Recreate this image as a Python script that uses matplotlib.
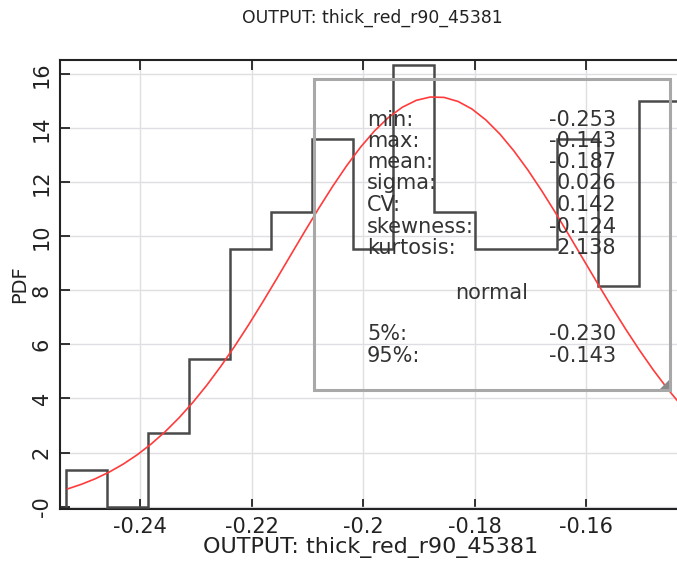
import numpy as np
import matplotlib
matplotlib.use("Agg")
import matplotlib.pyplot as plt
from matplotlib.patches import Rectangle, Polygon

# histogram (pdf heights per bin)
bin_edges = [-0.2533, -0.24596, -0.23862, -0.23128, -0.22394, -0.2166, -0.20926, -0.20192,
             -0.19458, -0.18724, -0.1799, -0.17256, -0.16522, -0.15788, -0.15054, -0.1432]
pdf_vals = [1.36, 0.0, 2.72, 5.45, 9.54, 10.9, 13.6, 9.54, 16.35, 10.9, 9.54, 9.54, 13.6, 8.18, 15.0]

# fitted normal curve
curve_x = [-0.253, -0.2505, -0.248, -0.2455, -0.243, -0.2405, -0.238, -0.2355, -0.233, -0.2305,
           -0.228, -0.2255, -0.223, -0.2205, -0.218, -0.2155, -0.213, -0.2105, -0.208, -0.2055,
           -0.203, -0.2005, -0.198, -0.1955, -0.193, -0.1905, -0.188, -0.1855, -0.183, -0.1805,
           -0.178, -0.1755, -0.173, -0.1705, -0.168, -0.1655, -0.163, -0.1605, -0.158, -0.1555,
           -0.153, -0.1505, -0.148, -0.1455, -0.143]
curve_y = [0.651, 0.823, 1.030, 1.278, 1.572, 1.916, 2.315, 2.770, 3.286, 3.863,
           4.500, 5.196, 5.945, 6.740, 7.573, 8.433, 9.306, 10.177, 11.029, 11.845,
           12.607, 13.298, 13.899, 14.398, 14.780, 15.036, 15.159, 15.145, 14.995, 14.714,
           14.307, 13.787, 13.166, 12.460, 11.686, 10.861, 10.004, 9.131, 8.260, 7.404,
           6.578, 5.791, 5.052, 4.368, 3.743]

x_ticks = [-0.24, -0.22, -0.2, -0.18, -0.16]
x_tick_labels = ["-0.24", "-0.22", "-0.2", "-0.18", "-0.16"]
y_ticks = [0, 2, 4, 6, 8, 10, 12, 14, 16]
y_tick_labels = ["-0", "2", "4", "6", "8", "10", "12", "14", "16"]

stat_names = ["min:", "max:", "mean:", "sigma:", "CV:", "skewness:", "kurtosis:"]
stat_values = ["-0.253", "-0.143", "-0.187", "0.026", "0.142", "-0.124", "2.138"]
pct_names = ["5%:", "95%:"]
pct_values = ["-0.230", "-0.143"]
dist_name = "normal"
var_name = "OUTPUT: thick_red_r90_45381"

W, H = 677, 561
fig = plt.figure(figsize=(W / 100, H / 100), dpi=100)
ax = fig.add_axes([60 / W, (H - 508.7) / H, 621 / W, 448.7 / H])

ax.set_xlim(-0.25434, -0.14305)
ax.set_ylim(-0.08, 16.53)

ax.grid(True, color="#e0dde3", lw=1.0, zorder=0)
ax.set_axisbelow(True)

ax.stairs(pdf_vals, bin_edges, baseline=0, color="#4a4a4a", lw=1.8, zorder=3)
ax.plot(curve_x, curve_y, color="#ff3b3b", lw=1.2, zorder=4)

ax.set_xticks(x_ticks)
ax.set_xticklabels(x_tick_labels)
ax.set_yticks(y_ticks)
ax.set_yticklabels(y_tick_labels, rotation=90, va="center")
ax.tick_params(axis="both", direction="in", length=7, width=1.3, color="#222222",
               labelsize=15, labelcolor="#222222")
ax.tick_params(axis="x", top=True, pad=6)
ax.tick_params(axis="y", pad=6)

for s in ["left", "top", "bottom"]:
    ax.spines[s].set_color("#222222")
    ax.spines[s].set_linewidth(1.5)
ax.spines["right"].set_visible(False)

ax.set_xlabel(var_name, fontsize=16, color="#222222", labelpad=0)
ax.set_ylabel("PDF", fontsize=14, color="#222222", labelpad=2)
fig.text(372 / W, 1 - 18 / H, var_name, fontsize=12.4, color="#222222",
         ha="center", va="center")

# statistics box (pixel positions converted to figure fraction)
def fx(px):
    return px / W

def fy(py):
    return 1 - py / H

box = Rectangle((fx(314), fy(390)), fx(670) - fx(314), fy(79) - fy(390),
                transform=fig.transFigure, fill=False, ec="#a8a8a8", lw=2.2, zorder=5)
fig.patches.append(box)
tri = Polygon([[fx(670), fy(389)], [fx(660), fy(389)], [fx(670), fy(379)]],
              closed=True, transform=fig.transFigure, fc="#8a8a8a", ec="none")
fig.patches.append(tri)

row_y = [120, 141, 162, 183, 205, 226.5, 248]
for name, val, py in zip(stat_names, stat_values, row_y):
    fig.text(fx(367), fy(py), name, fontsize=15, color="#333333", ha="left", va="center")
    fig.text(fx(616), fy(py), val, fontsize=15, color="#333333", ha="right", va="center")
fig.text(fx(492), fy(293), dist_name, fontsize=15, color="#333333", ha="center", va="center")
for name, val, py in zip(pct_names, pct_values, [334, 355.5]):
    fig.text(fx(367), fy(py), name, fontsize=15, color="#333333", ha="left", va="center")
    fig.text(fx(616), fy(py), val, fontsize=15, color="#333333", ha="right", va="center")

fig.savefig("out.png", dpi=100)
